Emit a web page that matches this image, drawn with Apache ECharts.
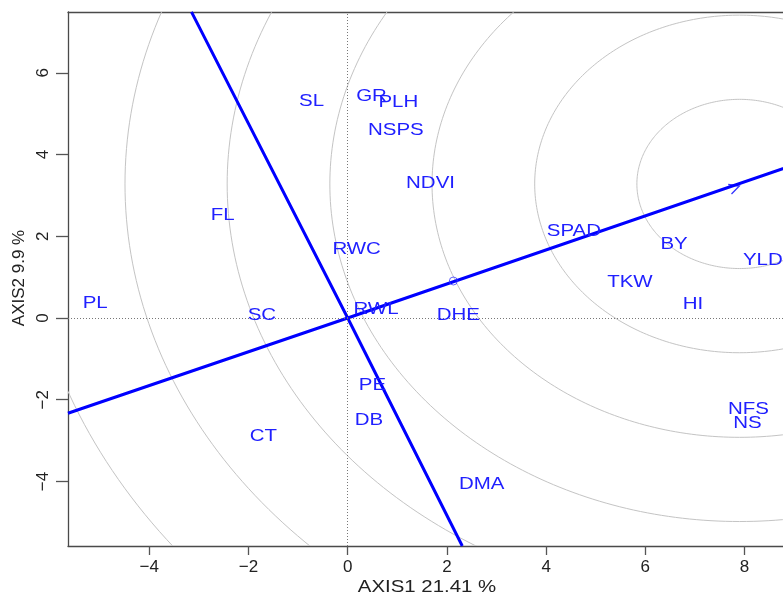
<!DOCTYPE html>
<html>
<head>
<meta charset="utf-8">
<script src="https://cdn.jsdelivr.net/npm/echarts@6/dist/echarts.min.js"></script>
<style>html,body{margin:0;padding:0;background:#fff}#c{width:783px;height:595px}</style>
</head>
<body>
<div id="c"></div>
<script>
// Tick labels
const xTicks = [-4, -2, 0, 2, 4, 6, 8];
const yTicks = [-4, -2, 0, 2, 4, 6];
// Trait labels and their biplot coordinates
const traitNames = ['PL','SC','FL','SL','GR','PLH','NSPS','NDVI','RWC','RWL','DHE','SPAD','BY','YLD','TKW','HI','PE','DB','CT','DMA','NFS','NS'];
const traitX = [-5.09,-1.73,-2.52,-0.73,0.48,1.02,0.97,1.67,0.18,0.57,2.23,4.56,6.58,8.37,5.69,6.96,0.50,0.43,-1.70,2.70,8.08,8.06];
const traitY = [0.36,0.07,2.52,5.29,5.43,5.27,4.58,3.28,1.68,0.21,0.07,2.11,1.80,1.42,0.87,0.33,-1.66,-2.51,-2.90,-4.07,-2.25,-2.58];
// Average environment coordination axis and its perpendicular
const aecX = [-5.64, 0, 8.98];
const aecY = [-2.33, 0, 3.74];
const perpX = [-3.15, 0, 2.31];
const perpY = [7.49, 0, -5.58];
// Concentric circles around the ideal point
const circleCenter = [7.90, 3.28];
const circleRadii = [2.07, 4.13, 6.20, 8.26, 10.33, 12.39, 14.46];
// Arrow head (ideal point) and average environment marker
const arrowPoint = [7.80, 3.19];
const meanPoint = [2.13, 0.905];

const blue = '#0000ff';
const textBlue = '#2020ff';
const frame = '#4a4a4a';
const fam = 'Liberation Sans, Arial, sans-serif';
const minus = v => String(v).replace('-', '\u2212');

const chart = echarts.init(document.getElementById('c'), null, {renderer: 'canvas'});
chart.setOption({
  animation: false,
  backgroundColor: '#fff',
  grid: {left: 68, right: 0, top: 12, bottom: 49, show: false},
  xAxis: [{
    type: 'value', min: -5.639, max: 8.776, position: 'bottom',
    axisLine: {show: true, onZero: false, lineStyle: {color: frame, width: 1.3}},
    axisTick: {show: true, length: 9, customValues: xTicks, lineStyle: {color: '#555', width: 1.3}},
    axisLabel: {customValues: xTicks, formatter: minus, fontSize: 17, color: '#222', fontFamily: fam, margin: 13},
    splitLine: {show: false}
  }, {
    type: 'value', min: -5.639, max: 8.776, position: 'top',
    axisLine: {show: true, onZero: false, lineStyle: {color: frame, width: 1.3}},
    axisTick: {show: false}, axisLabel: {show: false}, splitLine: {show: false}
  }],
  yAxis: {
    type: 'value', min: -5.579, max: 7.487,
    axisLine: {show: true, onZero: false, lineStyle: {color: frame, width: 1.3}},
    axisTick: {show: true, length: 12, customValues: yTicks, lineStyle: {color: '#555', width: 1.3}},
    axisLabel: {customValues: yTicks, formatter: minus, fontSize: 17, color: '#222', fontFamily: fam, rotate: 90, margin: 16},
    splitLine: {show: false}
  },
  graphic: [
    {type: 'text', x: 427, y: 587, scaleX: 1.2, style: {text: 'AXIS1 21.41 %', fontSize: 17, fontFamily: fam, fill: '#222', align: 'center', verticalAlign: 'middle'}},
    {type: 'text', x: 19, y: 278, rotation: Math.PI / 2, style: {text: 'AXIS2 9.9 %', fontSize: 17, fontFamily: fam, fill: '#222', align: 'center', verticalAlign: 'middle'}}
  ],
  series: [
    {
      type: 'custom', z: 1, silent: true, clip: true,
      encode: {x: 0, y: 1},
      data: circleRadii.map(r => [circleCenter[0], circleCenter[1], r]),
      renderItem: (params, api) => {
        const cx = api.value(0), cy = api.value(1), r = api.value(2);
        const pts = [];
        for (let i = 0; i <= 360; i += 1) {
          const a = i * Math.PI / 180;
          pts.push(api.coord([cx + r * Math.cos(a), cy + r * Math.sin(a)]));
        }
        return {type: 'polyline', shape: {points: pts}, style: {stroke: '#c4c4c4', fill: null, lineWidth: 1}};
      },
      markLine: {
        silent: true, symbol: 'none', label: {show: false},
        lineStyle: {color: '#777', type: [1, 2], width: 1},
        data: [{xAxis: 0}, {yAxis: 0}]
      }
    },
    {
      type: 'line', z: 3, symbol: 'none', clip: true,
      data: aecX.map((x, i) => [x, aecY[i]]),
      lineStyle: {color: blue, width: 3}
    },
    {
      type: 'line', z: 3, symbol: 'none', clip: true,
      data: perpX.map((x, i) => [x, perpY[i]]),
      lineStyle: {color: blue, width: 3}
    },
    {
      type: 'scatter', z: 4, silent: true,
      data: [arrowPoint],
      symbol: 'path://M0,0L10,5L0,10', symbolSize: [10, 10], symbolRotate: 19,
      itemStyle: {color: 'transparent', borderColor: blue, borderWidth: 1.3}
    },
    {
      type: 'scatter', z: 4, silent: true,
      data: [meanPoint],
      symbol: 'circle', symbolSize: 8,
      itemStyle: {color: 'transparent', borderColor: '#3a3aff', borderWidth: 1}
    },
    {
      type: 'custom', z: 5, silent: true, clip: false,
      encode: {x: 0, y: 1},
      data: traitNames.map((n, i) => [traitX[i], traitY[i]]),
      renderItem: (params, api) => {
        const p = api.coord([api.value(0), api.value(1)]);
        return {type: 'text', x: p[0], y: p[1], scaleX: 1.24,
          style: {text: traitNames[params.dataIndex], fill: textBlue, fontSize: 16.5, fontFamily: fam, align: 'center', verticalAlign: 'middle'}};
      }
    }
  ]
});
</script>
</body>
</html>
